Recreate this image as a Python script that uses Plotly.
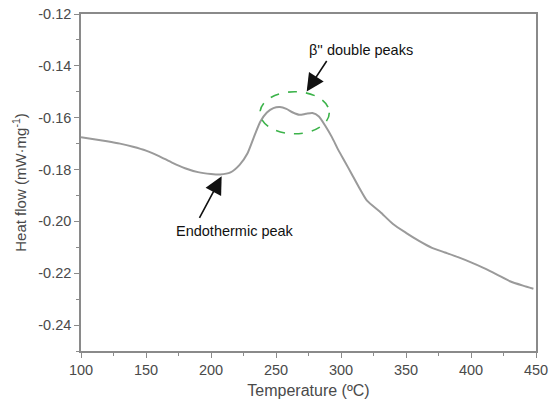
import plotly.graph_objects as go

temperature = [100, 110, 120, 130, 140, 150, 160, 170, 180, 190, 200, 207, 215, 222, 228, 233, 238, 243,
               248, 253, 258, 263, 268, 273, 278, 283, 288, 293, 298, 303, 308, 314, 320, 330, 340, 350,
               360, 370, 380, 390, 400, 410, 420, 430, 440, 448]
heat_flow = [-0.1675, -0.1683, -0.1691, -0.1700, -0.1712, -0.1727, -0.1748, -0.1773, -0.1795, -0.1810,
             -0.1817, -0.1819, -0.1811, -0.1782, -0.1738, -0.1675, -0.1615, -0.1580, -0.1563, -0.1559,
             -0.1566, -0.1580, -0.1589, -0.1585, -0.1582, -0.1595, -0.1632, -0.1675, -0.1725, -0.1770,
             -0.1815, -0.1870, -0.1920, -0.1963, -0.2010, -0.2044, -0.2075, -0.2102, -0.2120, -0.2138,
             -0.2158, -0.2180, -0.2205, -0.2231, -0.2248, -0.2260]
x_ticks = [100, 150, 200, 250, 300, 350, 400, 450]
y_ticks = [-0.24, -0.22, -0.20, -0.18, -0.16, -0.14, -0.12]
y_tick_labels = ["-0.24", "-0.22", "-0.20", "-0.18", "-0.16", "-0.14", "-0.12"]

font_family = "Liberation Sans, Arial, sans-serif"
axis_color = "#8a8a8a"
tick_font_color = "#4a4a4a"

fig = go.Figure()
fig.add_trace(go.Scatter(x=temperature, y=heat_flow, mode="lines",
                         line=dict(color="#9a9a9a", width=2, shape="spline", smoothing=0.6),
                         hoverinfo="skip", showlegend=False))

# dashed ellipse around the double peaks
fig.add_shape(type="circle", xref="x", yref="y", x0=237.7, x1=291.0, y0=-0.1662, y1=-0.1500,
              line=dict(color="#3cb34a", width=1.6, dash="dash"))

fig.add_annotation(x=273.6, y=-0.1499, xref="x", yref="y", text="", showarrow=True,
                   ax=21, ay=-32, arrowhead=2, arrowsize=2.2, arrowwidth=1.6, arrowcolor="#111111")
fig.add_annotation(x=315, y=-0.1337, xref="x", yref="y", text="β'' double peaks", showarrow=False,
                   font=dict(family=font_family, size=14.5, color="#111111"))

fig.add_annotation(x=208.2, y=-0.1826, xref="x", yref="y", text="", showarrow=True,
                   ax=-23, ay=43, arrowhead=2, arrowsize=2.2, arrowwidth=1.6, arrowcolor="#111111")
fig.add_annotation(x=218.5, y=-0.2037, xref="x", yref="y", text="Endothermic peak", showarrow=False,
                   font=dict(family=font_family, size=14.5, color="#111111"))

axis_common = dict(showgrid=False, zeroline=False, showline=True, linecolor=axis_color, linewidth=1.5,
                   mirror=True, ticks="outside", ticklen=5, tickwidth=1.2, tickcolor=axis_color,
                   automargin=False, ticklabeloverflow="allow",
                   tickfont=dict(family=font_family, size=14.5, color=tick_font_color))

fig.update_xaxes(range=[100, 450], tickvals=x_ticks, title=dict(text="Temperature (ºC)", standoff=8,
                 font=dict(family=font_family, size=16, color=tick_font_color)),
                 minor=dict(ticks="outside", ticklen=3, tickcolor=axis_color, dtick=25, tick0=100),
                 **axis_common)
fig.update_yaxes(range=[-0.25, -0.12], tickvals=y_ticks, ticktext=y_tick_labels,
                 title=dict(text="Heat flow (mW·mg<sup>-1</sup>)", standoff=8,
                            font=dict(family=font_family, size=15, color=tick_font_color)),
                 minor=dict(ticks="outside", ticklen=3, tickcolor=axis_color, dtick=0.01, tick0=-0.25),
                 **axis_common)

fig.update_layout(width=550, height=401, margin=dict(l=81, r=14, t=14, b=50),
                  paper_bgcolor="white", plot_bgcolor="white", font=dict(family=font_family))

# remove the default 8px page margin so the figure fills the window exactly
fig.write_html("out.html", config={"displayModeBar": False},
               post_script="document.body.style.margin='0';")
